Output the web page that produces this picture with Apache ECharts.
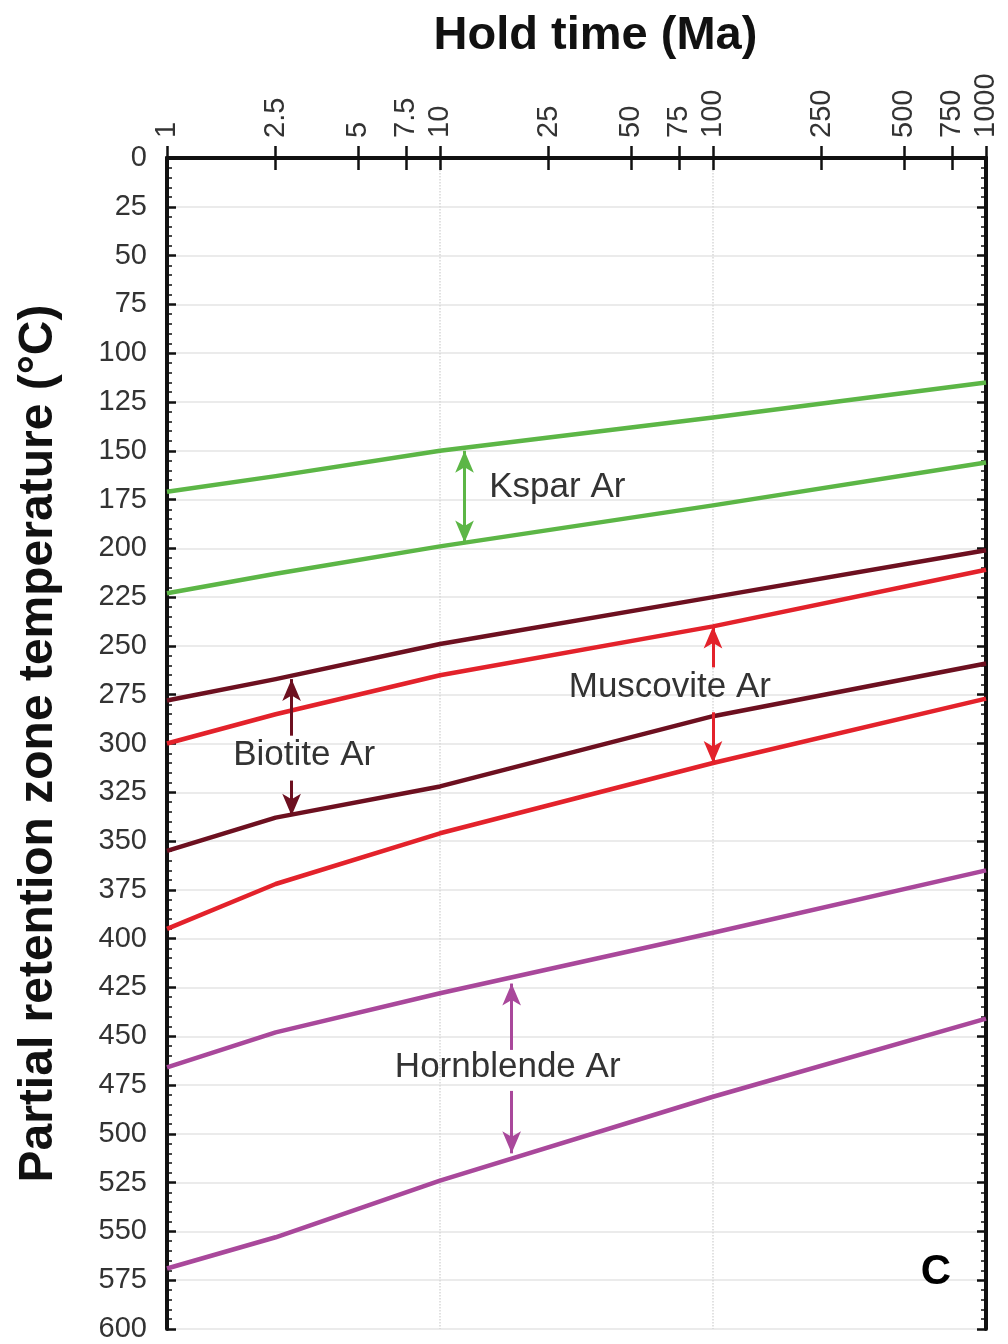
<!DOCTYPE html>
<html>
<head>
<meta charset="utf-8">
<title>Partial retention zone temperature vs hold time</title>
<script src="https://cdn.jsdelivr.net/npm/echarts@6/dist/echarts.min.js"></script>
<style>
    html, body { margin: 0; padding: 0; background: #fff; }
    #chart { width: 1008px; height: 1344px; }
</style>
</head>
<body>
<div id="chart"></div>
<script>
var holdTime = [1, 2.5, 10, 100, 1000];
// tick positions on the log axis
var holdTicks = [1, 2.5, 5, 7.5, 10, 25, 50, 75, 100, 250, 500, 750, 1000];

// partial retention zone temperature (°C), upper and lower bound of each zone
var ksparUpper = [171, 163, 150, 133, 115];
var ksparLower = [223, 213, 199, 178, 156];
var biotiteUpper = [278, 267, 249, 225, 201];
var biotiteLower = [355, 338, 322, 286, 259];
var muscoviteUpper = [300, 285, 265, 240, 211];
var muscoviteLower = [395, 372, 346, 310, 277];
var hornblendeUpper = [466, 448, 428, 397, 365];
var hornblendeLower = [569, 553, 524, 481, 441];

// annotation text [hold time, temperature, text]
var zoneLabels = [
    [26.9, 168.5, 'Kspar Ar'],
    [3.18, 306, 'Biotite Ar'],
    [69.5, 271, 'Muscovite Ar'],
    [17.7, 466, 'Hornblende Ar']
];
// arrows [hold time, from, to, double headed]
var ksparArrows = [[12.3, 150, 197, true]];
var biotiteArrows = [[2.86, 296, 267, false], [2.86, 319, 337, false]];
var muscoviteArrows = [[100, 261, 240, false], [100, 284, 310, false]];
var hornblendeArrows = [[18.3, 457, 423, false], [18.3, 478, 510, false]];

var FONT = '"Liberation Sans", Arial, Helvetica, sans-serif';
var colors = {
    kspar: '#5cb646',
    biotite: '#6d1020',
    muscovite: '#e3222b',
    hornblende: '#a9489b'
};

function pairs (ys) {
    return holdTime.map(function (x, i) { return [x, ys[i]]; });
}

function arrowLines (list) {
    return list.map(function (a) {
        return [
            { coord: [a[0], a[1]], symbol: a[3] ? 'arrow' : 'none' },
            { coord: [a[0], a[2]], symbol: 'arrow' }
        ];
    });
}

function zoneLine (name, ys, color, arrows, label) {
    var s = {
        name: name,
        type: 'line',
        data: pairs(ys),
        showSymbol: false,
        symbol: 'none',
        lineStyle: { color: color, width: 4.5, join: 'round' },
        itemStyle: { color: color },
        z: 3
    };
    if (arrows) {
        s.markLine = {
            silent: true,
            symbolSize: [14, 22],
            label: { show: false },
            lineStyle: { color: color, width: 3, type: 'solid' },
            emphasis: { disabled: true },
            data: arrowLines(arrows)
        };
    }
    if (label) {
        s.markPoint = {
            silent: true,
            symbol: 'circle',
            symbolSize: 0,
            label: {
                show: true,
                position: 'inside',
                color: '#333',
                fontFamily: FONT,
                fontSize: 35,
                formatter: label[2]
            },
            data: [{ coord: [label[0], label[1]] }]
        };
    }
    return s;
}

function tickText (v) {
    return String(Math.round(v * 10) / 10);
}

var axisBlack = { color: '#111', width: 4 };

var option = {
    animation: false,
    backgroundColor: '#fff',
    textStyle: { fontFamily: FONT },
    grid: { left: 167, right: 22, top: 158, bottom: 15 },
    xAxis: [
        {
            type: 'log',
            logBase: 10,
            min: 1,
            max: 1000,
            position: 'top',
            name: 'Hold time (Ma)',
            nameLocation: 'middle',
            nameGap: 98,
            nameTextStyle: { fontFamily: FONT, fontSize: 47, fontWeight: 'bold', color: '#111', padding: [0, 0, 0, 38] },
            axisLine: { lineStyle: axisBlack },
            axisTick: { inside: true, length: 12, customValues: holdTicks, lineStyle: { color: '#111', width: 2.5 } },
            axisLabel: {
                customValues: holdTicks,
                rotate: 90,
                margin: 20,
                fontSize: 29,
                color: '#333',
                fontFamily: FONT,
                formatter: tickText
            },
            splitLine: { show: false }
        },
        {
            type: 'log',
            logBase: 10,
            min: 1,
            max: 1000,
            position: 'bottom',
            axisLine: { lineStyle: axisBlack },
            axisTick: { inside: true, length: 12, customValues: holdTicks, lineStyle: { color: '#111', width: 2.5 } },
            axisLabel: { show: false },
            splitLine: { show: false }
        },
        {
            // only for the dotted decade grid lines
            type: 'log',
            logBase: 10,
            min: 1,
            max: 1000,
            axisLine: { show: false },
            axisTick: { show: false },
            axisLabel: { show: false },
            splitLine: { show: true, lineStyle: { color: '#d8d8d8', width: 1.5, type: 'dotted' } }
        }
    ],
    yAxis: [
        {
            type: 'value',
            inverse: true,
            min: 0,
            max: 600,
            interval: 25,
            position: 'left',
            name: 'Partial retention zone temperature (°C)',
            nameLocation: 'middle',
            nameGap: 104,
            nameTextStyle: { fontFamily: FONT, fontSize: 48, fontWeight: 'bold', color: '#111' },
            axisLine: { lineStyle: axisBlack },
            axisTick: { inside: true, length: 9, lineStyle: { color: '#111', width: 2.5 } },
            minorTick: { show: true, splitNumber: 5, length: 5, lineStyle: { color: '#111', width: 1.5 } },
            axisLabel: { margin: 20, fontSize: 29, color: '#333', fontFamily: FONT },
            splitLine: { show: true, lineStyle: { color: '#e4e4e4', width: 1.5 } }
        },
        {
            type: 'value',
            inverse: true,
            min: 0,
            max: 600,
            interval: 25,
            position: 'right',
            axisLine: { lineStyle: axisBlack },
            axisTick: { inside: true, length: 9, lineStyle: { color: '#111', width: 2.5 } },
            minorTick: { show: true, splitNumber: 5, length: 5, lineStyle: { color: '#111', width: 1.5 } },
            axisLabel: { show: false },
            splitLine: { show: false }
        }
    ],
    series: [
        zoneLine('Kspar Ar upper', ksparUpper, colors.kspar, ksparArrows, zoneLabels[0]),
        zoneLine('Kspar Ar lower', ksparLower, colors.kspar),
        zoneLine('Biotite Ar upper', biotiteUpper, colors.biotite, biotiteArrows, zoneLabels[1]),
        zoneLine('Biotite Ar lower', biotiteLower, colors.biotite),
        zoneLine('Muscovite Ar upper', muscoviteUpper, colors.muscovite, muscoviteArrows, zoneLabels[2]),
        zoneLine('Muscovite Ar lower', muscoviteLower, colors.muscovite),
        zoneLine('Hornblende Ar upper', hornblendeUpper, colors.hornblende, hornblendeArrows, zoneLabels[3]),
        zoneLine('Hornblende Ar lower', hornblendeLower, colors.hornblende),
        {
            // panel letter
            name: 'panel',
            type: 'scatter',
            data: [[656, 571]],
            symbolSize: 0,
            silent: true,
            itemStyle: { opacity: 1 },
            label: {
                show: true,
                position: 'inside',
                formatter: 'C',
                fontFamily: FONT,
                fontSize: 42,
                fontWeight: 'bold',
                color: '#000',
                opacity: 1
            }
        }
    ]
};

var chart = echarts.init(document.getElementById('chart'), null, { renderer: 'canvas' });
chart.setOption(option);
</script>
</body>
</html>
